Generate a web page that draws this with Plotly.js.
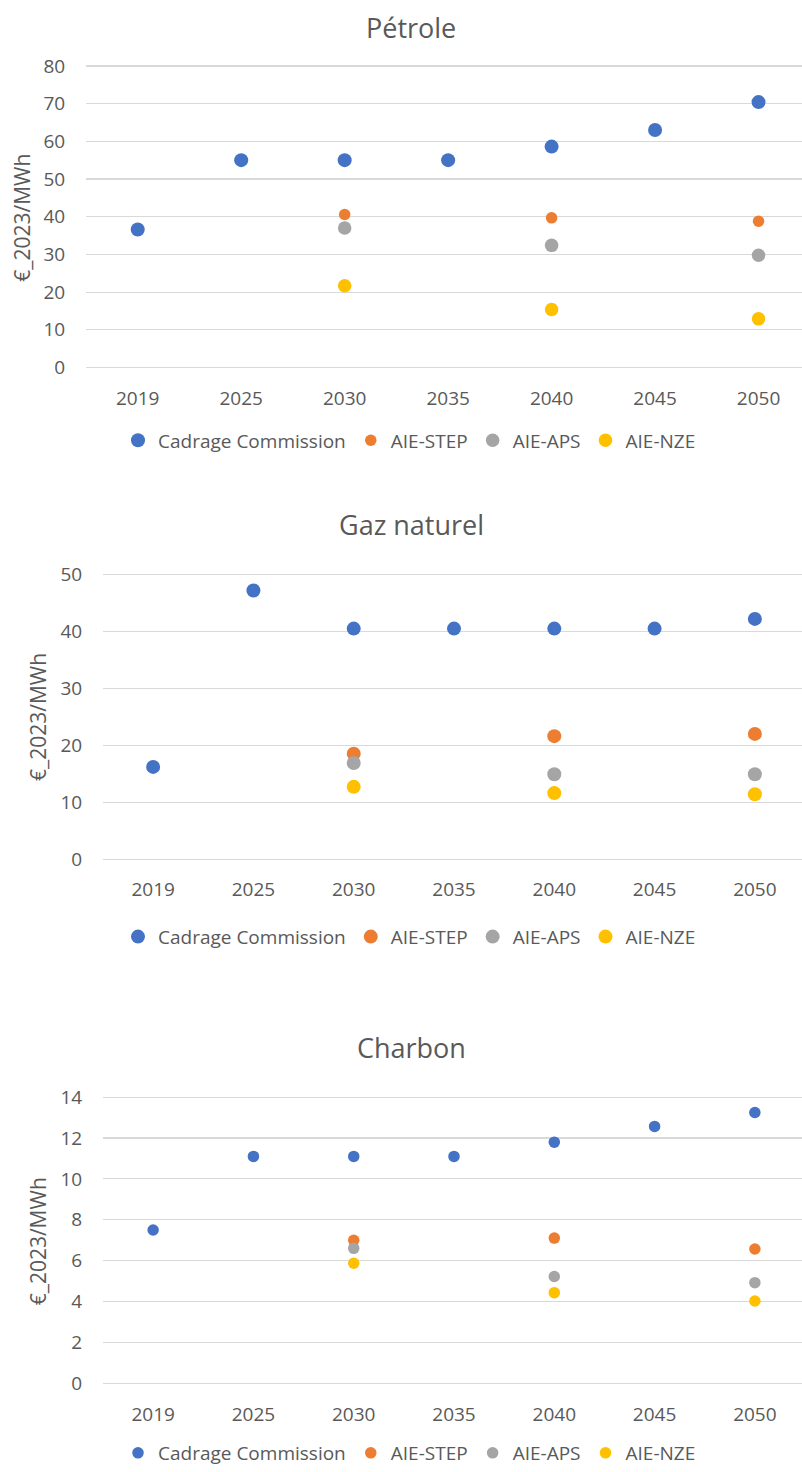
<!DOCTYPE html>
<html>
<head>
<meta charset="utf-8">
<script src="https://cdn.plot.ly/plotly-3.0.1.min.js"></script>
<style>
html,body{margin:0;padding:0;background:#fff;overflow:hidden;}
#chart{width:802px;height:1472px;}
</style>
</head>
<body>
<div id="chart"></div>
<script>
const years = ['2019','2025','2030','2035','2040','2045','2050'];
const seriesNames = ['Cadrage Commission','AIE-STEP','AIE-APS','AIE-NZE'];
const colors = ['#4472C4','#ED7D31','#A5A5A5','#FFC000'];

// Pétrole
const petroleCadrage = [36.6, 55.0, 55.0, 55.0, 58.6, 63.0, 70.4];
const petroleStep    = [null, null, 40.6, null, 39.7, null, 38.8];
const petroleAps     = [null, null, 37.0, null, 32.4, null, 29.8];
const petroleNze     = [null, null, 21.7, null, 15.4, null, 12.9];

// Gaz naturel
const gazCadrage = [16.2, 47.2, 40.5, 40.5, 40.5, 40.5, 42.2];
const gazStep    = [null, null, 18.5, null, 21.6, null, 22.0];
const gazAps     = [null, null, 16.9, null, 14.9, null, 14.9];
const gazNze     = [null, null, 12.7, null, 11.6, null, 11.4];

// Charbon
const charbonCadrage = [7.5, 11.1, 11.1, 11.1, 11.8, 12.57, 13.25];
const charbonStep    = [null, null, 6.99, null, 7.1, null, 6.57];
const charbonAps     = [null, null, 6.6, null, 5.22, null, 4.92];
const charbonNze     = [null, null, 5.87, null, 4.43, null, 4.02];

const chartTitles = ['Pétrole','Gaz naturel','Charbon'];
const yTitle = '€_2023/MWh';

const H = 1472, W = 802;
const fy = p => 1 - p / H;
const fx = p => p / W;

const charts = [
  {vals:[petroleCadrage,petroleStep,petroleAps,petroleNze], sizes:[14,11.5,13.5,13.5]},
  {vals:[gazCadrage,gazStep,gazAps,gazNze], sizes:[14,14,14,14]},
  {vals:[charbonCadrage,charbonStep,charbonAps,charbonNze], sizes:[11.5,11.5,11.5,11.5]}
];

const traces = [];
charts.forEach((c, ci) => {
  const sfx = ci === 0 ? '' : String(ci + 1);
  c.vals.forEach((v, si) => {
    traces.push({
      type:'scatter', mode:'markers', name:seriesNames[si],
      x:years, y:v,
      xaxis:'x'+sfx, yaxis:'y'+sfx,
      legend:'legend'+sfx,
      marker:{color:colors[si], size:c.sizes[si]},
      hoverinfo:'x+y+name'
    });
  });
});

const tickFont = {family:'Open Sans, Noto Sans, sans-serif', size:19, color:'#595959'};
const grid = '#D9D9D9';

function xax(domain, upper, anchor, tl){
  return {domain:domain, type:'category', range:[-0.5, upper], showgrid:false, zeroline:false,
    showline:false, ticks:'outside', ticklen:tl, tickcolor:'rgba(0,0,0,0)', tickfont:tickFont,
    anchor:anchor, fixedrange:true};
}
// y axis: pixel of value 0 (p0) and of max (pMax); pad range slightly so edge gridlines are drawn
function yax(p0, pMax, max, dtick, anchor){
  const pxPerUnit = (p0 - pMax) / max;
  const pad = 4 / pxPerUnit;
  return {domain:[fy(p0 + 4), fy(pMax - 4)], range:[-pad, max + pad], dtick:dtick, tick0:0,
    showgrid:true, gridcolor:grid, gridwidth:1.2,
    zeroline:false, showline:false, ticks:'outside', ticklen:16, tickcolor:'rgba(0,0,0,0)',
    tickfont:tickFont, anchor:anchor, fixedrange:true};
}
function legendCfg(py){
  return {orientation:'h', x:fx(118), xanchor:'left', y:fy(py), yanchor:'middle',
    font:{family:'Open Sans, Noto Sans, sans-serif', size:19, color:'#595959'},
    bgcolor:'rgba(0,0,0,0)', itemwidth:30, tracegroupgap:0};
}

const titleFont = {family:'Open Sans, Noto Sans, sans-serif', size:27, color:'#595959'};
const axTitleFont = {family:'Open Sans, Noto Sans, sans-serif', size:21, color:'#595959'};

const annotations = [
  {text:chartTitles[0], x:fx(411), y:fy(28)},
  {text:chartTitles[1], x:fx(411), y:fy(525)},
  {text:chartTitles[2], x:fx(411), y:fy(1049)}
].map(a => Object.assign(a, {xref:'paper', yref:'paper', xanchor:'center', yanchor:'middle', showarrow:false, font:titleFont}));

[[22,218],[38,718],[38,1243]].forEach(p => annotations.push({
  text:yTitle, x:fx(p[0]), y:fy(p[1]), xref:'paper', yref:'paper', xanchor:'center', yanchor:'middle',
  textangle:-90, showarrow:false, font:axTitleFont
}));

const layout = {
  width:W, height:H, margin:{l:0,r:0,t:0,b:0},
  paper_bgcolor:'#fff', plot_bgcolor:'#fff',
  showlegend:true,
  xaxis: xax([fx(86),1], 6.42, 'y', 10),
  yaxis: yax(368, 66, 80, 10, 'x'),
  xaxis2: xax([fx(103),1], 6.47, 'y2', 9),
  yaxis2: yax(860.3, 575.3, 50, 10, 'x2'),
  xaxis3: xax([fx(103),1], 6.47, 'y3', 10),
  yaxis3: yax(1385, 1098.7, 14, 2, 'x3'),
  legend: legendCfg(441),
  legend2: legendCfg(938),
  legend3: legendCfg(1455),
  annotations: annotations
};

Plotly.newPlot('chart', traces, layout, {displayModeBar:false, staticPlot:true});
</script>
</body>
</html>
